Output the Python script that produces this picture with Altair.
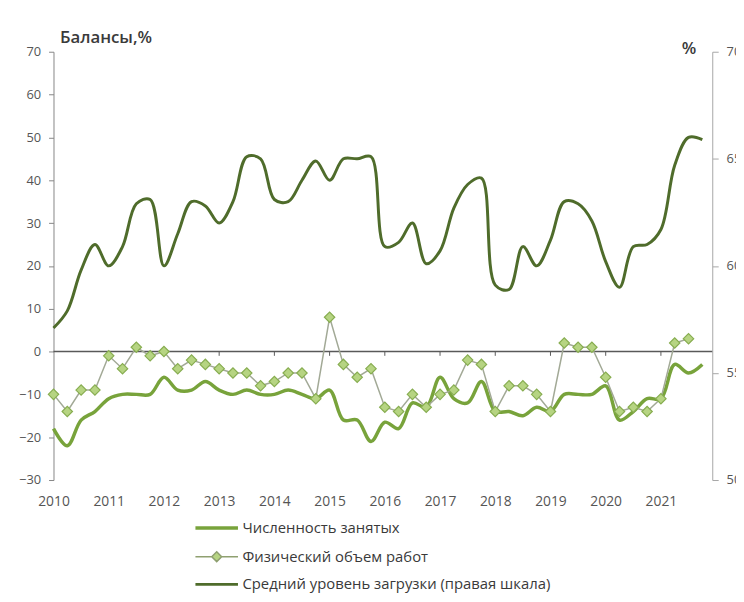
import altair as alt
import pandas as pd

# ---- data (quarterly, 2010Q1 .. 2021Q4) ----
quarters = [2010 + i / 4 for i in range(48)]
employment = [-18, -22, -16, -14, -11, -10, -10, -10, -6, -9,
              -9, -7, -9, -10, -9, -10, -10, -9, -10, -11,
              -9, -16, -16, -21, -16.5, -18, -12, -13, -6, -11,
              -12, -7, -14, -14, -15, -13, -14, -10, -10, -10,
              -8, -16, -14, -11, -11, -3, -5, -3]
physical = [-10, -14, -9, -9, -1, -4, 1, -1, 0, -4,
            -2, -3, -4, -5, -5, -8, -7, -5, -5, -11,
            8, -3, -6, -4, -13, -14, -10, -13, -10, -9,
            -2, -3, -14, -8, -8, -10, -14, 2, 1, 1,
            -6, -14, -13, -14, -11, 2, 3, None]
utilization = [57.1, 57.9, 59.8, 61.0, 60.0, 60.9, 62.9, 63.1, 60.0, 61.5,
               63.0, 62.8, 62.0, 63.0, 65.1, 65.0, 63.1, 63.0, 64.0, 64.9,
               64.0, 65.0, 65.0, 65.1, 60.9, 61.1, 62.0, 60.1, 60.7, 62.7,
               63.8, 64.1, 59.1, 58.9, 60.9, 60.0, 61.2, 63.0, 62.9, 62.1,
               60.2, 59.0, 60.9, 61.0, 61.7, 64.7, 66.0, 65.9]
series_names = ["Численность занятых", "Физический объем работ",
                "Средний уровень загрузки (правая шкала)"]
year_labels = list(range(2010, 2022))
left_ticks = list(range(-30, 71, 10))
right_ticks = [50, 55, 60, 65, 70]

df = pd.DataFrame({"t": quarters, "emp": employment, "phys": physical, "util": utilization})
zero_df = pd.DataFrame({"y": [0]})
tick_df = pd.DataFrame({"t": year_labels[1:], "y0": [0] * 11, "y1": [-1] * 11})
legend_df = pd.DataFrame({"series": series_names})

FONT = "Open Sans"
C_EMP = "#78a33b"
C_PHYS = "#a2a996"
C_UTIL = "#4f6c2b"
C_DIAM_FILL = "#b6d482"
C_DIAM_STROKE = "#87ad50"

xscale = alt.Scale(domain=[2010, 2021.93], nice=False, zero=False)
yl = alt.Scale(domain=[-30, 70], nice=False, zero=False)
yr = alt.Scale(domain=[50, 70], nice=False, zero=False)

x_axis = alt.Axis(values=year_labels, format="d", domain=False, ticks=False, grid=False,
                  labelPadding=15, labelFontSize=14, labelColor="#555555", labelFont=FONT,
                  labelFlush=False, labelOverlap=False, title=None)
left_axis = alt.Axis(values=left_ticks, grid=False, tickSize=5, tickColor="#868686",
                     domainColor="#868686", labelPadding=8, labelFontSize=13,
                     labelColor="#555555", labelFont=FONT, labelFlush=False,
                     title="Балансы,%", titleAngle=0, titleAlign="left",
                     titleBaseline="middle", titleX=6, titleY=-14, titleFont=FONT,
                     titleFontSize=17, titleFontWeight=600, titleColor="#3a3a3a")
right_axis = alt.Axis(orient="right", values=right_ticks, grid=False, tickSize=6,
                      tickColor="#a6a6a6", domainColor="#a6a6a6", labelPadding=8,
                      labelFontSize=13, labelColor="#555555", labelFont=FONT, labelFlush=False,
                      title="%", titleAngle=0, titleAlign="center", titleBaseline="middle",
                      titleX=-24, titleY=-3, titleFont=FONT, titleFontSize=17,
                      titleFontWeight=600, titleColor="#3a3a3a")

X = alt.X("t:Q", scale=xscale, axis=x_axis)
base = alt.Chart(df)

emp_line = base.mark_line(color=C_EMP, strokeWidth=3.5, interpolate="catmull-rom").encode(
    x=X,
    y=alt.Y("emp:Q", scale=yl, axis=left_axis),
)
phys_line = base.mark_line(color=C_PHYS, strokeWidth=1.5).encode(
    x=X,
    y=alt.Y("phys:Q", scale=yl, axis=left_axis),
)
phys_pts = base.mark_point(shape="diamond", filled=True, fill=C_DIAM_FILL, stroke=C_DIAM_STROKE,
                           strokeWidth=1.2, size=110, opacity=1).encode(
    x=X,
    y=alt.Y("phys:Q", scale=yl, axis=left_axis),
)
zero_rule = alt.Chart(zero_df).mark_rule(color="#595959", strokeWidth=1.5).encode(
    y=alt.Y("y:Q", scale=yl, axis=left_axis),
)
year_ticks = alt.Chart(tick_df).mark_rule(color="#595959", strokeWidth=1).encode(
    x=X,
    y=alt.Y("y0:Q", scale=yl, axis=left_axis),
    y2="y1:Q",
)

legend = alt.Legend(title=None, orient="none", legendX=141, legendY=474, direction="vertical",
                    labelFont=FONT, labelFontSize=15, labelColor="#3a3a3a", symbolSize=100,
                    labelOffset=35, rowPadding=12, padding=0, labelLimit=500)
shape_paths = ["M-1,0H7.6",
               "M-1,0H2.3M4.3,0H7.6M3.3,-1L4.3,0L3.3,1L2.3,0Z",
               "M-1,0H7.6"]
legend_layer = alt.Chart(legend_df).transform_filter("false").mark_point(
    filled=False, fill=C_DIAM_FILL, opacity=1).encode(
    color=alt.Color("series:N", scale=alt.Scale(domain=series_names,
                                                range=[C_EMP, "#8fa070", C_UTIL]), legend=legend),
    shape=alt.Shape("series:N", scale=alt.Scale(domain=series_names, range=shape_paths), legend=legend),
    strokeWidth=alt.StrokeWidth("series:N", scale=alt.Scale(type="ordinal", domain=series_names,
                                                            range=[3.5, 1.5, 3]),
                                legend=legend),
)

left = alt.layer(zero_rule, year_ticks, emp_line, phys_line, phys_pts, legend_layer)

util_line = base.mark_line(color=C_UTIL, strokeWidth=3, interpolate="catmull-rom").encode(
    x=X,
    y=alt.Y("util:Q", scale=yr, axis=right_axis),
)

chart = alt.layer(left, util_line).resolve_scale(y="independent").properties(
    width=666, height=433,
    padding={"left": 46, "top": 41, "right": 24, "bottom": 112},
    autosize=alt.AutoSizeParams(type="none"),
    background="white",
).configure_view(stroke=None)

chart.save("out.html", embed_options={"renderer": "svg", "actions": False})
